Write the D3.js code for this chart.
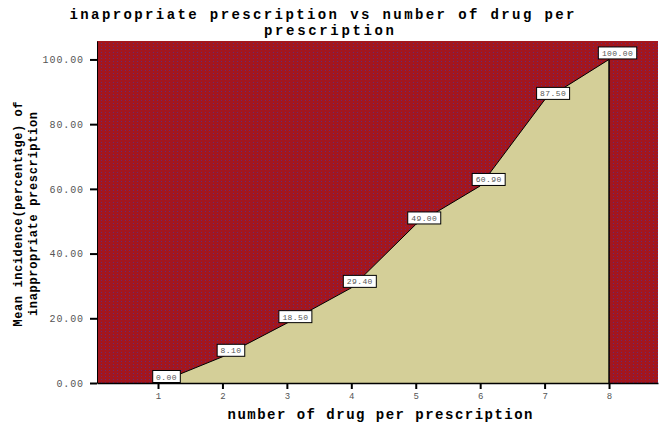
<!DOCTYPE html>
<html>
<head>
<meta charset="utf-8">
<script src="https://cdn.jsdelivr.net/npm/d3@7"></script>
<style>
  html, body { margin: 0; padding: 0; background: #fff; }
  svg { display: block; }
</style>
</head>
<body>
<svg id="chart" width="660" height="423"></svg>
<script>
// Number of drugs on a prescription and the mean share judged inappropriate
const drugCounts = [1, 2, 3, 4, 5, 6, 7, 8];
const meanIncidence = [0.00, 8.10, 18.50, 29.40, 49.00, 60.90, 87.50, 100.00];
const yTicks = [0, 20, 40, 60, 80, 100];
const titleLines = ["inapropriate prescription vs number of drug per", "prescription"];
const xTitle = "number of drug per prescription";
const yTitleLines = ["Mean incidence(percentage) of", "inappropriate prescription"];

const data = drugCounts.map((d, i) => ({ x: d, y: meanIncidence[i] }));

const svg = d3.select("#chart");
const plot = { left: 97, right: 658, top: 41, bottom: 383 };

const x = d3.scaleLinear().domain([0.053, 8.76]).range([plot.left, plot.right]);
const y = d3.scaleLinear().domain([0, 105.7]).range([plot.bottom, plot.top]);

const mono = "'Liberation Mono', 'DejaVu Sans Mono', monospace";

// Dotted dark-red fill of the plot background
const defs = svg.append("defs");
const pat = defs.append("pattern")
  .attr("id", "dots").attr("patternUnits", "userSpaceOnUse")
  .attr("width", 4).attr("height", 3);
pat.append("rect").attr("width", 4).attr("height", 3).attr("fill", "#a3161e");
pat.append("rect").attr("x", 1).attr("y", 1).attr("width", 1).attr("height", 1).attr("fill", "#6a2a6e");

svg.append("rect")
  .attr("x", plot.left).attr("y", plot.top)
  .attr("width", plot.right - plot.left).attr("height", plot.bottom - plot.top)
  .attr("fill", "url(#dots)");

// Area under the mean curve
const area = d3.area().x(d => x(d.x)).y0(y(0)).y1(d => y(d.y));
svg.append("path").datum(data)
  .attr("d", area)
  .attr("fill", "#d4cf98");

const line = d3.line().x(d => x(d.x)).y(d => y(d.y));
svg.append("path").datum(data)
  .attr("d", line)
  .attr("fill", "none").attr("stroke", "#000").attr("stroke-width", 1);

// Closing edge of the area at the last category
const last = data[data.length - 1];
svg.append("line")
  .attr("x1", x(last.x)).attr("x2", x(last.x))
  .attr("y1", y(last.y)).attr("y2", y(0))
  .attr("stroke", "#000").attr("stroke-width", 1.5);

// Axes
const xAxis = d3.axisBottom(x).tickValues(drugCounts).tickSize(6).tickSizeOuter(0).tickFormat(d3.format("d"));
const gx = svg.append("g").attr("transform", `translate(0,${plot.bottom})`).call(xAxis);
gx.select(".domain").attr("stroke", "#000").attr("stroke-width", 1.5);
gx.selectAll(".tick line").attr("stroke", "#000").attr("stroke-width", 2);
gx.selectAll(".tick text")
  .attr("y", 10).attr("dy", "0.71em")
  .attr("font-family", mono).attr("font-size", 9).attr("fill", "#555");

const yAxis = d3.axisLeft(y).tickValues(yTicks).tickSize(7).tickSizeOuter(0).tickFormat(d3.format(".2f"));
const gy = svg.append("g").attr("transform", `translate(${plot.left},0)`).call(yAxis);
gy.select(".domain").attr("stroke", "#000").attr("stroke-width", 1);
gy.selectAll(".tick line").attr("stroke", "#000").attr("stroke-width", 2);
gy.selectAll(".tick text")
  .attr("x", -13)
  .attr("font-family", mono).attr("font-size", 10).attr("fill", "#555")
  .attr("letter-spacing", 0.9);

// Value labels in small white boxes above each point
const labels = svg.append("g").selectAll("g").data(data).join("g")
  .attr("transform", d => `translate(${x(d.x) + 8.5},${y(d.y)})`);
labels.each(function(d) {
  const g = d3.select(this);
  const txt = d3.format(".2f")(d.y);
  const w = txt.length * 5.4 + 6;
  g.append("rect")
    .attr("x", -w / 2).attr("y", -12.5)
    .attr("width", w).attr("height", 12)
    .attr("fill", "#fff").attr("stroke", "#000").attr("stroke-width", 1);
  g.append("text")
    .attr("x", 0).attr("y", -3.5)
    .attr("text-anchor", "middle")
    .attr("font-family", mono).attr("font-size", 8).attr("fill", "#555")
    .attr("letter-spacing", 0.4)
    .text(txt);
});

// Title
const title = svg.append("g");
title.append("text")
  .attr("x", 322).attr("y", 19)
  .attr("text-anchor", "middle")
  .attr("font-family", mono).attr("font-weight", "bold").attr("font-size", 14)
  .attr("textLength", 505).attr("lengthAdjust", "spacing")
  .text(titleLines[0]);
title.append("text")
  .attr("x", 329).attr("y", 35)
  .attr("text-anchor", "middle")
  .attr("font-family", mono).attr("font-weight", "bold").attr("font-size", 14)
  .attr("textLength", 130).attr("lengthAdjust", "spacing")
  .text(titleLines[1]);

// Axis titles
svg.append("text")
  .attr("x", 380).attr("y", 419)
  .attr("text-anchor", "middle")
  .attr("font-family", mono).attr("font-weight", "bold").attr("font-size", 14)
  .attr("textLength", 305).attr("lengthAdjust", "spacing")
  .text(xTitle);

const yt = svg.append("g").attr("transform", "translate(0,214) rotate(-90)");
yt.append("text")
  .attr("x", 0).attr("y", 22)
  .attr("text-anchor", "middle")
  .attr("font-family", mono).attr("font-weight", "bold").attr("font-size", 12)
  .attr("textLength", 225).attr("lengthAdjust", "spacing")
  .text(yTitleLines[0]);
yt.append("text")
  .attr("x", 0).attr("y", 37)
  .attr("text-anchor", "middle")
  .attr("font-family", mono).attr("font-weight", "bold").attr("font-size", 12)
  .attr("textLength", 204).attr("lengthAdjust", "spacing")
  .text(yTitleLines[1]);
</script>
</body>
</html>
